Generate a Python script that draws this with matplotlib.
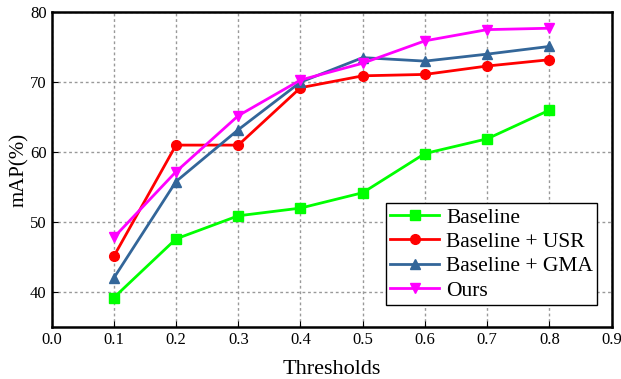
import matplotlib
matplotlib.use("Agg")
import matplotlib.pyplot as plt

plt.rcParams['font.family'] = ['Liberation Serif', 'DejaVu Serif']

thresholds = [0.1, 0.2, 0.3, 0.4, 0.5, 0.6, 0.7, 0.8]
baseline = [39.2, 47.6, 50.9, 52.0, 54.2, 59.8, 61.9, 66.0]
baseline_usr = [45.1, 61.0, 61.0, 69.2, 70.9, 71.1, 72.3, 73.2]
baseline_gma = [42.0, 55.8, 63.2, 70.0, 73.5, 73.0, 74.0, 75.1]
ours = [47.8, 57.2, 65.2, 70.3, 72.7, 75.9, 77.5, 77.7]

series = [
    ('Baseline', baseline, '#00ff00', 's'),
    ('Baseline + USR', baseline_usr, '#ff0000', 'o'),
    ('Baseline + GMA', baseline_gma, '#336699', '^'),
    ('Ours', ours, '#ff00ff', 'v'),
]

fig, ax = plt.subplots(figsize=(6.21, 3.79), dpi=100)
fig.subplots_adjust(left=0.083, right=0.985, top=0.968, bottom=0.137)

for name, vals, col, mk in series:
    ax.plot(thresholds, vals, color=col, marker=mk, lw=2, ms=7, label=name)

ax.set_xlim(0.0, 0.9)
ax.set_ylim(35, 80)
ax.set_xticks([i / 10 for i in range(10)])
ax.set_yticks([40, 50, 60, 70, 80])
ax.grid(True, linestyle=(0, (2, 2)), color='#999999', lw=1)
ax.tick_params(direction='in', labelsize=12, length=4)
for s in ax.spines.values():
    s.set_linewidth(1.8)

ax.set_xlabel('Thresholds', fontsize=16, labelpad=9)
ax.set_ylabel('mAP(%)', fontsize=15, labelpad=1)

leg = ax.legend(loc='lower right', bbox_to_anchor=(0.974, 0.07), fontsize=15.5,
                fancybox=False, framealpha=1, edgecolor='black',
                handlelength=2.3, labelspacing=0.2, borderpad=0.2,
                handletextpad=0.3, borderaxespad=0)
leg.get_frame().set_linewidth(1)

fig.savefig('out.png', dpi=100)
